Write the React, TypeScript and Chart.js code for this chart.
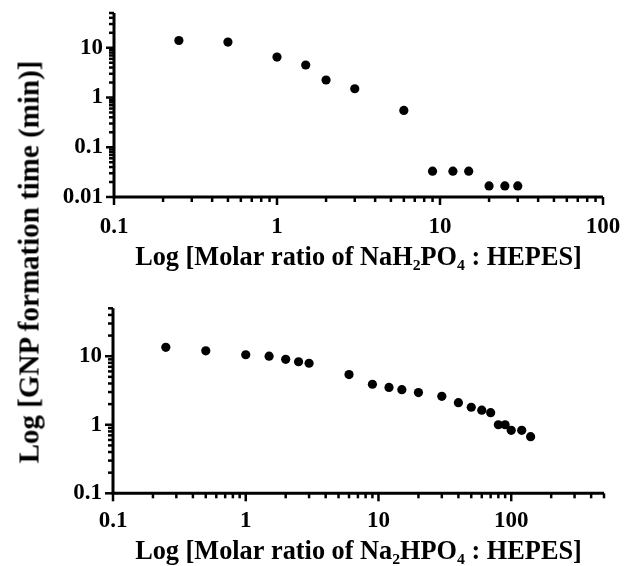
import React, { useEffect, useRef } from "react";
import { Chart, registerables } from "chart.js";

Chart.register(...registerables);

const FONT = "'Liberation Serif', 'Times New Roman', Times, serif";

// Top panel: NaH2PO4 : HEPES
const topRatios = [0.25, 0.5, 1, 1.5, 2, 3, 6, 9, 12, 15, 20, 25, 30];
const topTimes = [14, 13, 6.5, 4.5, 2.25, 1.5, 0.55, 0.033, 0.033, 0.033, 0.0167, 0.0167, 0.0167];

// Bottom panel: Na2HPO4 : HEPES
const bottomRatios = [0.25, 0.5, 1, 1.5, 2, 2.5, 3, 6, 9, 12, 15, 20, 30, 40, 50, 60, 70, 80, 90, 100, 120, 140];
const bottomTimes = [13.5, 12, 10.5, 10, 9, 8.3, 7.9, 5.4, 3.9, 3.5, 3.25, 2.95, 2.6, 2.1, 1.8, 1.63, 1.5, 1.0, 1.0, 0.83, 0.83, 0.67];

const topXRange = [0.1, 100];
const topYRange = [0.01, 50];
const bottomXRange = [0.1, 500];
const bottomYRange = [0.1, 50];

const topXTitle = "Log [Molar ratio of NaH\u2082PO\u2084 : HEPES]";
const bottomXTitle = "Log [Molar ratio of Na\u2082HPO\u2084 : HEPES]";
const yTitle = "Log [GNP formation time (min)]";

function isPow10(v: number) {
  const l = Math.log10(v);
  return Math.abs(l - Math.round(l)) < 1e-6;
}

function logTicks(min: number, max: number) {
  const out: { value: number; major: boolean }[] = [];
  for (let e = Math.floor(Math.log10(min)); e <= Math.ceil(Math.log10(max)); e++) {
    for (let m = 1; m <= 9; m++) {
      const v = Number((m * Math.pow(10, e)).toPrecision(6));
      if (v >= min * 0.9999 && v <= max * 1.0001) out.push({ value: v, major: m === 1 });
    }
  }
  return out;
}

const labelFor = (value: any) => {
  const v = Number(value);
  return isPow10(v) ? String(Number(v.toPrecision(1))) : "";
};

const axisPlugin = {
  id: "axisTicks",
  afterDraw(chart: any) {
    const { ctx, chartArea } = chart;
    const xs = chart.scales.x;
    const ys = chart.scales.y;
    ctx.save();
    ctx.strokeStyle = "#000";
    ctx.lineCap = "butt";
    ctx.lineWidth = 3;
    ctx.beginPath();
    ctx.moveTo(chartArea.left, chartArea.top);
    ctx.lineTo(chartArea.left, chartArea.bottom + 1.5);
    ctx.moveTo(chartArea.left - 1.5, chartArea.bottom);
    ctx.lineTo(chartArea.right, chartArea.bottom);
    ctx.stroke();
    ctx.lineWidth = 2.5;
    xs.ticks.forEach((t: any) => {
      const p = xs.getPixelForValue(t.value);
      const len = isPow10(t.value) ? 8 : 5;
      ctx.beginPath();
      ctx.moveTo(p, chartArea.bottom);
      ctx.lineTo(p, chartArea.bottom + len);
      ctx.stroke();
    });
    ys.ticks.forEach((t: any) => {
      const p = ys.getPixelForValue(t.value);
      const len = isPow10(t.value) ? 8 : 5;
      ctx.beginPath();
      ctx.moveTo(chartArea.left, p);
      ctx.lineTo(chartArea.left - len, p);
      ctx.stroke();
    });
    ctx.restore();
  },
};

type Geom = {
  padTop: number;
  padRight: number;
  yAxisWidth: number;
  xAxisHeight: number;
  xTickPad: number;
  yTickPad: number;
  titlePad: number;
};

function makeConfig(xsData: number[], ysData: number[], xr: number[], yr: number[], xTitle: string, g: Geom): any {
  return {
    type: "scatter",
    data: {
      datasets: [
        {
          data: xsData.map((x, i) => ({ x, y: ysData[i] })),
          pointRadius: 4.6,
          pointHoverRadius: 4.6,
          backgroundColor: "#000",
          borderColor: "#000",
          borderWidth: 0,
          showLine: false,
        },
      ],
    },
    options: {
      animation: false,
      responsive: true,
      maintainAspectRatio: false,
      events: [],
      layout: { padding: { top: g.padTop, right: g.padRight, left: 0, bottom: 0 } },
      plugins: { legend: { display: false }, tooltip: { enabled: false }, title: { display: false } },
      scales: {
        x: {
          type: "logarithmic",
          position: "bottom",
          min: xr[0],
          max: xr[1],
          grid: { display: false, drawTicks: false },
          border: { display: false },
          ticks: {
            autoSkip: false,
            maxRotation: 0,
            minRotation: 0,
            padding: g.xTickPad,
            color: "#000",
            font: { family: FONT, size: 23, weight: "bold" },
            callback: labelFor,
          },
          title: {
            display: true,
            text: xTitle,
            color: "#000",
            font: { family: FONT, size: 26.3, weight: "bold" },
            padding: { top: 0, bottom: g.titlePad },
          },
          afterBuildTicks: (s: any) => {
            s.ticks = logTicks(xr[0], xr[1]);
          },
          afterFit: (s: any) => {
            s.height = g.xAxisHeight;
            s.paddingLeft = 0;
            s.paddingRight = 0;
            s.paddingTop = 0;
            s.paddingBottom = 0;
          },
        },
        y: {
          type: "logarithmic",
          position: "left",
          min: yr[0],
          max: yr[1],
          grid: { display: false, drawTicks: false },
          border: { display: false },
          ticks: {
            autoSkip: false,
            padding: g.yTickPad,
            color: "#000",
            font: { family: FONT, size: 23, weight: "bold" },
            callback: labelFor,
          },
          afterBuildTicks: (s: any) => {
            s.ticks = logTicks(yr[0], yr[1]);
          },
          afterFit: (s: any) => {
            s.width = g.yAxisWidth;
            s.paddingLeft = 0;
            s.paddingRight = 0;
            s.paddingTop = 0;
            s.paddingBottom = 0;
          },
        },
      },
    },
    plugins: [axisPlugin],
  };
}

function ChartBox({ cfg, top, height }: { cfg: () => any; top: number; height: number }) {
  const ref = useRef<HTMLCanvasElement | null>(null);
  useEffect(() => {
    if (!ref.current) return;
    const c = new Chart(ref.current, cfg());
    return () => c.destroy();
  }, []);
  return (
    <div style={{ position: "absolute", left: 0, top, width: 624, height }}>
      <canvas ref={ref} />
    </div>
  );
}

export default function App() {
  return (
    <div
      style={{
        position: "absolute",
        left: 0,
        top: 0,
        width: 624,
        height: 566,
        overflow: "hidden",
        background: "#fff",
      }}
    >
      <ChartBox
        top={0}
        height={290}
        cfg={() =>
          makeConfig(topRatios, topTimes, topXRange, topYRange, topXTitle, {
            padTop: 13,
            padRight: 21,
            yAxisWidth: 114,
            xAxisHeight: 93,
            xTickPad: 16.5,
            yTickPad: 11,
            titlePad: 16.4,
          })
        }
      />
      <ChartBox
        top={290}
        height={290}
        cfg={() =>
          makeConfig(bottomRatios, bottomTimes, bottomXRange, bottomYRange, bottomXTitle, {
            padTop: 18.3,
            padRight: 20,
            yAxisWidth: 113,
            xAxisHeight: 86.7,
            xTickPad: 13.5,
            yTickPad: 11,
            titlePad: 12.4,
          })
        }
      />
      <div
        style={{
          position: "absolute",
          left: 28.5,
          top: 261.5,
          transform: "translate(-50%, -50%) rotate(-90deg)",
          fontFamily: FONT,
          fontWeight: "bold",
          fontSize: 29,
          lineHeight: 1,
          whiteSpace: "nowrap",
          color: "#000",
        }}
      >
        {yTitle}
      </div>
    </div>
  );
}
